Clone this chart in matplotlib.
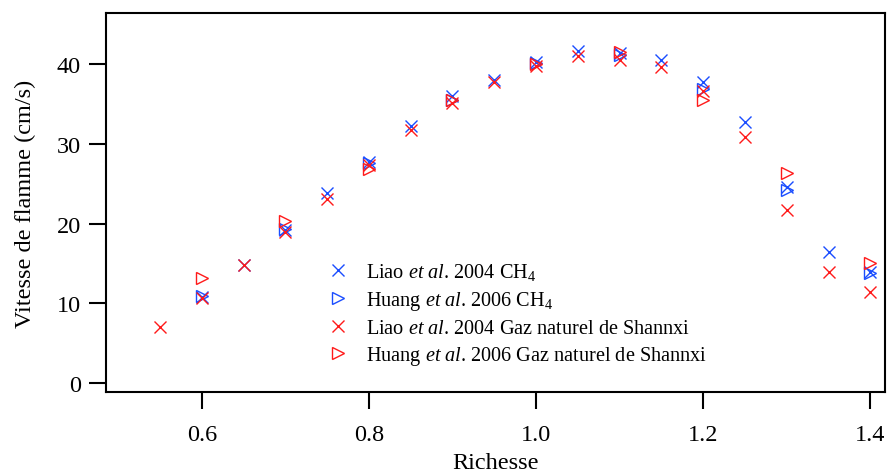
import matplotlib
matplotlib.use("Agg")
import matplotlib.pyplot as plt

plt.rcParams['font.family'] = ['Liberation Serif', 'DejaVu Serif']
plt.rcParams['mathtext.fontset'] = 'custom'
plt.rcParams['mathtext.rm'] = 'Liberation Serif'
plt.rcParams['mathtext.it'] = 'Liberation Serif:italic'

# Liao et al. 2004, CH4
liao_ch4_x = [0.6, 0.65, 0.7, 0.75, 0.8, 0.85, 0.9, 0.95, 1.0, 1.05, 1.1, 1.15, 1.2, 1.25, 1.3, 1.35, 1.4]
liao_ch4_y = [10.8, 14.8, 19.2, 23.8, 27.7, 32.2, 36.0, 38.0, 40.3, 41.6, 41.4, 40.5, 37.7, 32.7, 24.6, 16.5, 13.9]

# Huang et al. 2006, CH4
huang_ch4_x = [0.6, 0.7, 0.8, 0.9, 1.0, 1.1, 1.2, 1.3, 1.4]
huang_ch4_y = [10.9, 19.3, 27.6, 35.5, 40.1, 41.1, 36.9, 24.2, 13.8]

# Liao et al. 2004, gaz naturel
liao_ng_x = [0.55, 0.6, 0.65, 0.7, 0.75, 0.8, 0.85, 0.9, 0.95, 1.0, 1.05, 1.1, 1.15, 1.2, 1.25, 1.3, 1.35, 1.4]
liao_ng_y = [7.0, 10.7, 14.8, 19.0, 23.1, 27.4, 31.7, 35.1, 37.7, 39.8, 41.0, 40.5, 39.6, 36.6, 30.9, 21.7, 13.9, 11.4]

# Huang et al. 2006, gaz naturel
huang_ng_x = [0.6, 0.7, 0.8, 0.9, 1.0, 1.1, 1.2, 1.3, 1.4]
huang_ng_y = [13.2, 20.3, 26.9, 35.5, 40.0, 41.5, 35.5, 26.3, 15.1]

blue = '#1a4dff'
red = '#ff1a1a'

fig, ax = plt.subplots(figsize=(8.88, 4.77), dpi=100)
fig.subplots_adjust(left=0.119, right=0.997, top=0.971, bottom=0.176)

ax.plot(liao_ch4_x, liao_ch4_y, ls='none', marker='x', ms=9, mew=1.0, color=blue,
        label=r'Liao $\mathit{et\ al}$. 2004 CH$_4$')
ax.plot(huang_ch4_x, huang_ch4_y, ls='none', marker='>', ms=9, mew=1.0, mfc='none', color=blue,
        label=r'Huang $\mathit{et\ al}$. 2006 CH$_4$')
ax.plot(liao_ng_x, liao_ng_y, ls='none', marker='x', ms=9, mew=1.0, color=red,
        label=r'Liao $\mathit{et\ al}$. 2004 Gaz naturel de Shannxi')
ax.plot(huang_ng_x, huang_ng_y, ls='none', marker='>', ms=9, mew=1.0, mfc='none', color=red,
        label=r'Huang $\mathit{et\ al}$. 2006 Gaz naturel de Shannxi')

ax.set_xlim(0.485, 1.418)
ax.set_ylim(-1.1, 46.4)
ax.set_xticks([0.6, 0.8, 1.0, 1.2, 1.4])
ax.set_xticklabels(['0.6', '0.8', '1.0', '1.2', '1.4'])
ax.set_yticks([0, 10, 20, 30, 40])

for s in ax.spines.values():
    s.set_linewidth(1.5)
ax.tick_params(direction='out', length=12, width=1.5, labelsize=17.5)
ax.tick_params(axis='y', pad=6)
ax.tick_params(axis='x', pad=11)

ax.set_xlabel('Richesse', fontsize=17.5, labelpad=5)
ax.set_ylabel('Vitesse de flamme (cm/s)', fontsize=17.5, labelpad=15)

ax.legend(loc='upper left', bbox_to_anchor=(0.283, 0.345), frameon=False, fontsize=14.6,
          handlelength=1.2, handletextpad=0.75, labelspacing=0.33, borderaxespad=0,
          borderpad=0)

fig.savefig('out.png', dpi=100)
